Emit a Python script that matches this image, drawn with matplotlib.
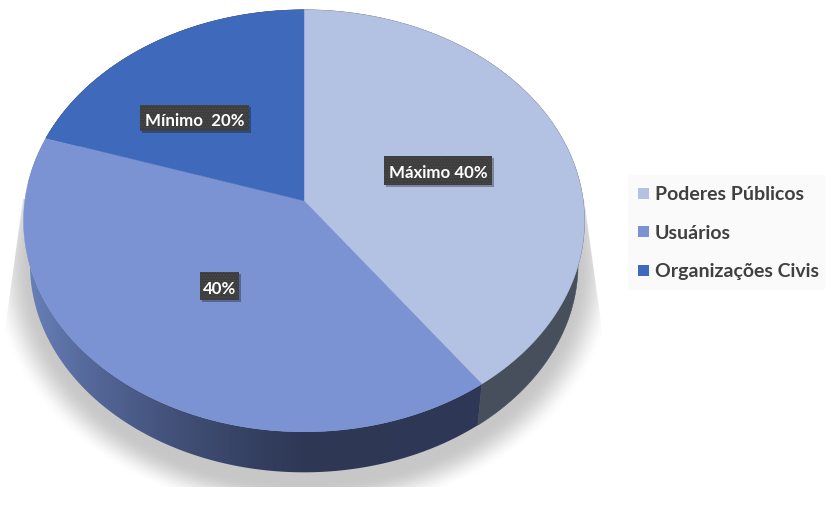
#!/usr/bin/env python3
"""3D looking pie chart, drawn on a pixel sized axes."""
import numpy as np
import matplotlib
matplotlib.use("Agg")
import matplotlib.pyplot as plt
from matplotlib.colors import LinearSegmentedColormap
from matplotlib.patches import Polygon, Rectangle, PathPatch
from matplotlib.path import Path

# data
categories = ["Poderes Públicos", "Usuários", "Organizações Civis"]
values = [40, 40, 20]
labels = ["Máximo 40%", "40%", "Mínimo  20%"]
top_colors = ["#b3c1e2", "#7b93d3", "#3f6abb"]

# layout, in pixels
label_boxes = [(384, 157, 108, 29), (200, 273, 39, 28), (140, 106, 109, 26)]
legend_y = [194.5, 232.7, 271.5]
CX = 304
APEX_TOP = 201.8
APEX_BOTTOM = 245.8
K = 0.0948          # perspective of the disc
A, B = 279.2, 209.1
SX, SY = 0.977, 0.985   # lower face is a bit smaller

plt.rcParams["font.family"] = ["Lato", "DejaVu Sans"]
plt.rcParams["hatch.linewidth"] = 0.6


def rim(theta, lower=False):
    """Screen position of the disc rim, theta in degrees clockwise from the top."""
    u, v = np.sin(np.radians(theta)), np.cos(np.radians(theta))
    d = 1 + K * v
    x, y = A * u / d, -B * v / d
    if lower:
        return np.column_stack([CX + SX * x, APEX_BOTTOM + SY * y])
    return np.column_stack([CX + x, APEX_TOP + y])


fig = plt.figure(figsize=(8.27, 5.06), dpi=100)
ax = fig.add_axes([0, 0, 1, 1])
ax.set_xlim(0, 827)
ax.set_ylim(506, 0)
ax.axis("off")

# soft shadow under the disc
yy, xx = np.mgrid[0:506, 0:827] + 0.5
dist = np.sqrt(((xx - 304) / 314) ** 2 + ((yy - 268) / 250) ** 2)
fade = np.clip((1 - dist) / 0.13, 0, 1)
fade = fade * fade * (3 - 2 * fade)
shadow = np.ones((506, 827, 4))
shadow[..., :3] = 0.0
shadow[..., 3] = 0.22 * fade
im = ax.imshow(shadow, extent=(0, 827, 506, 0), aspect="auto", zorder=1)
clip = Polygon([(23, 200), (3, 345), (3, 488), (604, 488), (604, 345), (584, 200)],
               transform=ax.transData, fill=False, edgecolor="none")
ax.add_patch(clip)
im.set_clip_path(clip)

# side walls, then top faces
edges = np.cumsum([0] + values) / sum(values) * 360
wall_cmap = LinearSegmentedColormap.from_list(
    "wall", [(0, "#6880b8"), (0.12, "#566a9c"), (0.3, "#44537c"),
             (0.52, "#333e5e"), (0.62, "#2e3855"), (1, "#2e3957")])
wall_colors = ["#474f5c", None, "#2e3957"]
gradient = np.linspace(0, 1, 600)[None, :]

for i in [2, 0, 1]:
    theta = np.linspace(edges[i], edges[i + 1], 200)
    pts = np.vstack([rim(theta), rim(theta[::-1], lower=True)])
    if wall_colors[i] is None:
        wall = PathPatch(Path(np.vstack([pts, pts[:1]])), facecolor="none",
                         edgecolor="none", zorder=2)
        ax.add_patch(wall)
        g = ax.imshow(gradient, extent=(28, 482, 480, 130), aspect="auto",
                      cmap=wall_cmap, vmin=0, vmax=1, zorder=2)
        g.set_clip_path(wall)
    else:
        ax.add_patch(Polygon(pts, facecolor=wall_colors[i],
                             edgecolor=wall_colors[i], lw=0.4, zorder=2))

ax.set_xlim(0, 827)
ax.set_ylim(506, 0)

for i in range(len(values)):
    theta = np.linspace(edges[i], edges[i + 1], 200)
    pts = np.vstack([[CX, APEX_TOP], rim(theta)])
    ax.add_patch(Polygon(pts, facecolor=top_colors[i], edgecolor=top_colors[i],
                         lw=0.3, zorder=3))

# data labels
for text, (x, y, w, h) in zip(labels, label_boxes):
    ax.add_patch(Rectangle((x + 2, y + 2), w, h, facecolor="#000000", alpha=0.3,
                           edgecolor="none", zorder=4))
    ax.add_patch(Rectangle((x, y), w, h, facecolor="#3d3d3d", edgecolor="#4d4d4d",
                           hatch="......", lw=0, zorder=5))
    ax.text(x + w / 2, y + h / 2 + 1.5, text, color="white", fontsize=12.2, fontweight="bold",
            ha="center", va="center", zorder=6)

# legend
ax.add_patch(Rectangle((628, 176), 197, 115, facecolor="#fafafa", edgecolor="none", zorder=1))
for name, color, y in zip(categories, top_colors, legend_y):
    ax.add_patch(Rectangle((638, y - 5.5), 11, 11, facecolor=color, edgecolor="none", zorder=2))
    ax.text(655, y + 0.5, name, color="#404040", fontsize=14, fontweight="bold",
            ha="left", va="center", zorder=2)

fig.savefig("out.png", dpi=100, facecolor="white")
